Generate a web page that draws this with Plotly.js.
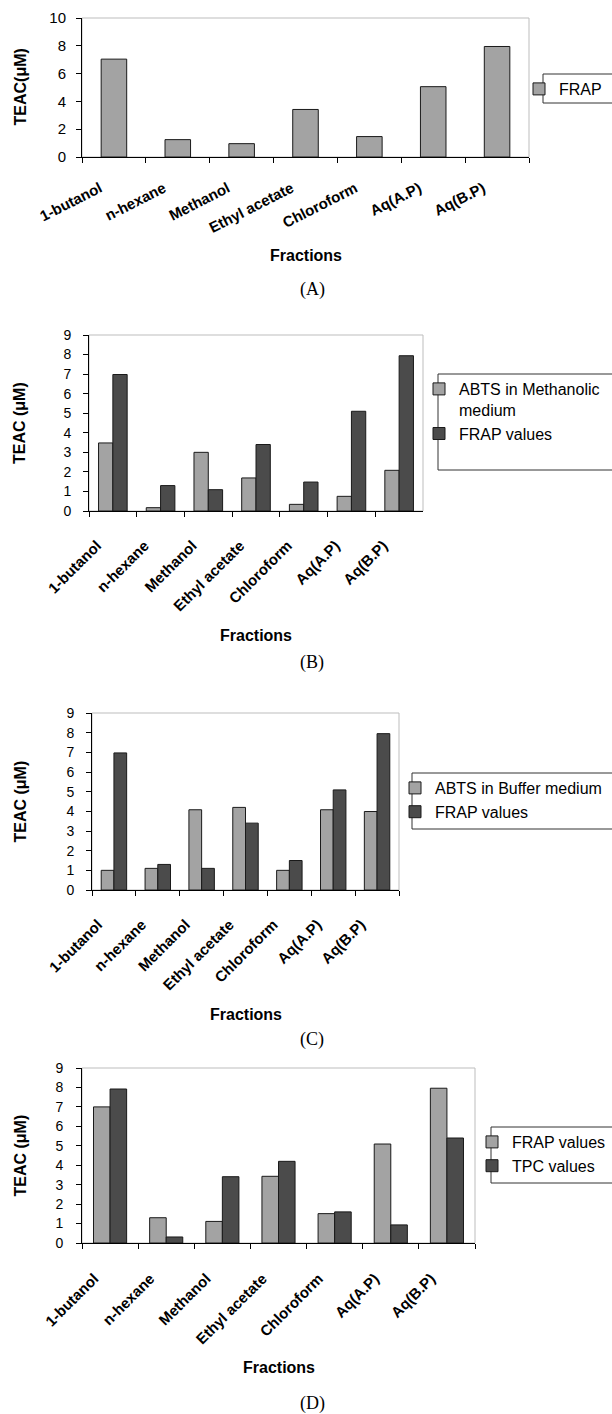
<!DOCTYPE html>
<html>
<head>
<meta charset="utf-8">
<script src="https://cdn.plot.ly/plotly-3.0.1.min.js"></script>
<style>html,body{margin:0;padding:0;background:#fff;}#chart{width:612px;height:1414px;}</style>
</head>
<body>
<div id="chart"></div>
<script>
// ---------- data ----------
const categories = ['1-butanol', 'n-hexane', 'Methanol', 'Ethyl acetate', 'Chloroform', 'Aq(A.P)', 'Aq(B.P)'];
const frapA = [7.04, 1.25, 0.96, 3.42, 1.47, 5.06, 7.95];
const abtsMethanolic = [3.48, 0.17, 3.0, 1.69, 0.34, 0.75, 2.08];
const frapB = [6.98, 1.3, 1.09, 3.4, 1.48, 5.1, 7.94];
const abtsBuffer = [1.0, 1.1, 4.08, 4.2, 1.0, 4.08, 3.99];
const frapC = [6.97, 1.3, 1.1, 3.4, 1.5, 5.09, 7.95];
const frapD = [7.0, 1.3, 1.11, 3.43, 1.51, 5.09, 7.96];
const tpcD = [7.92, 0.31, 3.41, 4.2, 1.6, 0.93, 5.4];
const legendNames = {
  A: ['FRAP'],
  B: ['ABTS in Methanolic<br>medium', 'FRAP values'],
  C: ['ABTS in Buffer medium', 'FRAP values'],
  D: ['FRAP values', 'TPC values']
};
const yTitles = ['TEAC(\u03bcM)', 'TEAC (\u03bcM)', 'TEAC (\u03bcM)', 'TEAC (\u03bcM)'];
const xTitle = 'Fractions';
const captions = ['(A)', '(B)', '(C)', '(D)'];

// ---------- layout geometry (pixels) ----------
const W = 612, H = 1414;
const px = v => v / W;
const py = v => 1 - v / H;
const LIGHT = '#a3a3a3', DARK = '#4b4b4b', EDGE = '#1a1a1a';
const FONT = 'Liberation Sans, Arial, sans-serif';

const panels = [
  {x0: 82, x1: 529, y0: 18, y1: 157, yr: [0, 10], dt: 2, tfs: 15, ang: -27, xso: 16, xsh: -14, yso: 7,
   series: [[frapA, LIGHT, legendNames.A[0]]], bw: 0.4,
   leg: {x: 519, y: 72, box: [543, 74, 103]}, fracY: 255, capY: 289},
  {x0: 89, x1: 423, y0: 335, y1: 511, yr: [0, 9], dt: 1, tfs: 14, ang: -45, xso: 19, xsh: -16, yso: 9,
   series: [[abtsMethanolic, LIGHT, legendNames.B[0]], [frapB, DARK, legendNames.B[1]]], bw: 0.3,
   leg: {x: 419, y: 372, box: [438, 374, 470]}, fracY: 635, capY: 662},
  {x0: 92, x1: 399, y0: 713, y1: 890, yr: [0, 9], dt: 1, tfs: 14, ang: -45, xso: 19, xsh: -16, yso: 9,
   series: [[abtsBuffer, LIGHT, legendNames.C[0]], [frapC, DARK, legendNames.C[1]]], bw: 0.29,
   leg: {x: 395, y: 771, box: [412, 773, 829]}, fracY: 1014, capY: 1039},
  {x0: 82, x1: 475, y0: 1068, y1: 1243, yr: [0, 9], dt: 1, tfs: 14, ang: -45, xso: 20, xsh: -16, yso: 10,
   series: [[frapD, LIGHT, legendNames.D[0]], [tpcD, DARK, legendNames.D[1]]], bw: 0.295,
   leg: {x: 472, y: 1125, box: [491, 1127, 1183]}, fracY: 1367, capY: 1403}
];

const data = [];
const layout = {
  width: W, height: H,
  margin: {l: 0, r: 0, t: 0, b: 0, autoexpand: false},
  paper_bgcolor: '#fff', plot_bgcolor: '#fff',
  showlegend: true,
  barmode: 'group',
  font: {family: FONT, color: '#000'},
  shapes: [], annotations: []
};

panels.forEach((p, i) => {
  const n = i + 1;
  const xa = n === 1 ? 'x' : 'x' + n;
  const ya = n === 1 ? 'y' : 'y' + n;
  const legId = n === 1 ? 'legend' : 'legend' + n;
  const k = p.series.length;
  p.series.forEach((s, j) => {
    data.push({
      type: 'bar', x: categories, y: s[0], name: s[2],
      xaxis: xa, yaxis: ya, legend: legId,
      width: p.bw, offset: -p.bw * k / 2 + j * p.bw,
      marker: {color: s[1], line: {color: EDGE, width: 1}},
      hoverinfo: 'x+y'
    });
  });
  layout['xaxis' + (n === 1 ? '' : n)] = {
    domain: [px(p.x0), px(p.x1)], anchor: ya,
    type: 'category', categoryorder: 'array', categoryarray: categories,
    range: [-0.5, 6.5], fixedrange: true,
    showline: true, linecolor: '#000', linewidth: 1,
    ticks: 'outside', tickson: 'boundaries', ticklen: 5, tickcolor: '#000', tickwidth: 1,
    tickangle: p.ang, ticklabelstandoff: p.xso, ticklabelshift: p.xsh,
    showgrid: false, zeroline: false,
    tickfont: {family: 'Liberation Sans', size: 15, weight: 'bold', color: '#000'}
  };
  layout['yaxis' + (n === 1 ? '' : n)] = {
    domain: [py(p.y1), py(p.y0)], anchor: xa,
    range: p.yr, dtick: p.dt, tick0: 0, fixedrange: true,
    showline: true, linecolor: '#000', linewidth: 1,
    ticks: 'outside', ticklen: 5, tickcolor: '#000', tickwidth: 1,
    ticklabelstandoff: p.yso,
    showgrid: false, zeroline: false,
    tickfont: {family: FONT, size: p.tfs, color: '#000'}
  };
  layout[legId] = {
    x: px(p.leg.x), y: py(p.leg.y), xref: 'paper', yref: 'paper',
    xanchor: 'left', yanchor: 'top', valign: 'top',
    bgcolor: 'rgba(0,0,0,0)', borderwidth: 0,
    font: {family: FONT, size: 16, color: '#000'},
    tracegroupgap: 0
  };
  // light frame on top/right of the plot area
  layout.shapes.push({type: 'rect', xref: xa + ' domain', yref: ya + ' domain',
    x0: 0, x1: 1, y0: 0, y1: 1, line: {color: '#bdbdbd', width: 1}, layer: 'below'});
  // legend frame (clipped by the page on the right, as in the original)
  layout.shapes.push({type: 'rect', xref: 'paper', yref: 'paper',
    x0: px(p.leg.box[0]), x1: px(W + 20), y0: py(p.leg.box[2]), y1: py(p.leg.box[1]),
    line: {color: '#333', width: 1}, fillcolor: 'rgba(0,0,0,0)', layer: 'below'});
  // y title
  layout.annotations.push({text: yTitles[i], xref: 'paper', yref: 'paper',
    x: px(20), y: py((p.y0 + p.y1) / 2), xanchor: 'center', yanchor: 'middle',
    textangle: -90, showarrow: false,
    font: {family: FONT, size: 16, weight: 'bold', color: '#000'}});
  // x title
  layout.annotations.push({text: xTitle, xref: xa + ' domain', yref: 'paper',
    x: 0.5, y: py(p.fracY), xanchor: 'center', yanchor: 'middle', showarrow: false,
    font: {family: FONT, size: 16, weight: 'bold', color: '#000'}});
  // caption
  layout.annotations.push({text: captions[i], xref: 'paper', yref: 'paper',
    x: px(312), y: py(p.capY), xanchor: 'center', yanchor: 'middle', showarrow: false,
    font: {family: 'Liberation Serif, Times New Roman, serif', size: 18, color: '#000'}});
});

Plotly.newPlot('chart', data, layout, {displayModeBar: false, staticPlot: true});
</script>
</body>
</html>
